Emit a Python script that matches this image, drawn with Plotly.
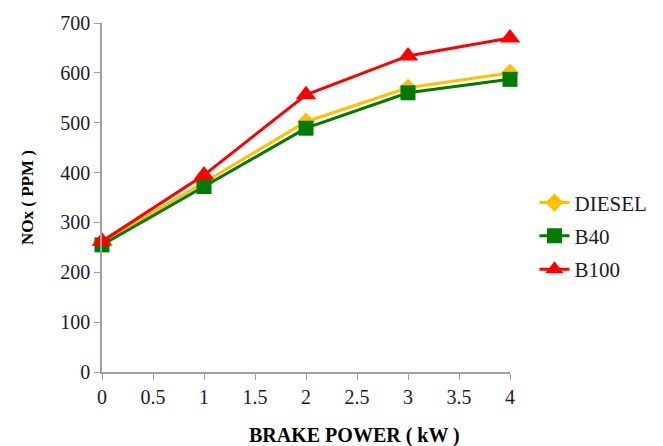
import plotly.graph_objects as go

bp = [0, 1, 2, 3, 4]
diesel = [260, 380, 502, 570, 600]
b40 = [255, 372, 489, 560, 587]
b100 = [262, 395, 556, 634, 670]

x_ticks = [0, 0.5, 1, 1.5, 2, 2.5, 3, 3.5, 4]
x_tick_text = ["0", "0.5", "1", "1.5", "2", "2.5", "3", "3.5", "4"]
y_ticks = [0, 100, 200, 300, 400, 500, 600, 700]

fig = go.Figure()
fig.add_trace(go.Scatter(x=bp, y=diesel, name="DIESEL", mode="lines+markers",
                         legendgroup="a", cliponaxis=False,
                         line=dict(color="#FFC000", width=3),
                         marker=dict(symbol="diamond", size=14, color="#FFC000")))
fig.add_trace(go.Scatter(x=bp, y=b40, name="B40", mode="lines+markers",
                         legendgroup="b", cliponaxis=False,
                         line=dict(color="#007A00", width=3),
                         marker=dict(symbol="square", size=15, color="#007A00")))
fig.add_trace(go.Scatter(x=bp, y=b100, name="B100", mode="lines+markers",
                         legendgroup="c", cliponaxis=False,
                         line=dict(color="#FF0000", width=3),
                         marker=dict(symbol="triangle-up", size=18, color="#FF0000")))

fig.update_layout(
    width=663, height=446,
    margin=dict(l=102, r=153, t=23, b=74, autoexpand=False),
    paper_bgcolor="white", plot_bgcolor="white",
    font=dict(family="Liberation Serif", size=20, color="#1a1a2e"),
    showlegend=True,
    legend=dict(x=1.06, y=0.39, xanchor="left", yanchor="middle",
                font=dict(family="Liberation Serif", size=21, color="#1a1a2e"),
                tracegroupgap=3, itemwidth=30),
    xaxis=dict(range=[0, 4], tickvals=x_ticks, ticktext=x_tick_text,
               showgrid=False, zeroline=False, showline=True,
               linecolor="#A0A0A0", linewidth=1.5,
               ticks="outside", ticklen=6, tickcolor="#A0A0A0",
               tickfont=dict(family="Liberation Serif", size=20)),
    yaxis=dict(range=[0, 700], tickvals=y_ticks,
               showgrid=False, zeroline=False, showline=True,
               linecolor="#A0A0A0", linewidth=1.5,
               ticks="outside", ticklen=6, tickcolor="#A0A0A0",
               tickfont=dict(family="Liberation Serif", size=20),
               title=dict(text="<b>NOx ( PPM )</b>", standoff=22,
                          font=dict(family="Liberation Serif", size=17, color="#000000"))),
)
fig.add_annotation(text="<b>BRAKE POWER ( kW )</b>", xref="paper", yref="paper",
                   x=0.62, y=-0.182, xanchor="center", yanchor="middle", showarrow=False,
                   font=dict(family="Liberation Serif", size=20, color="#000000"))

fig.write_html("out.html")
